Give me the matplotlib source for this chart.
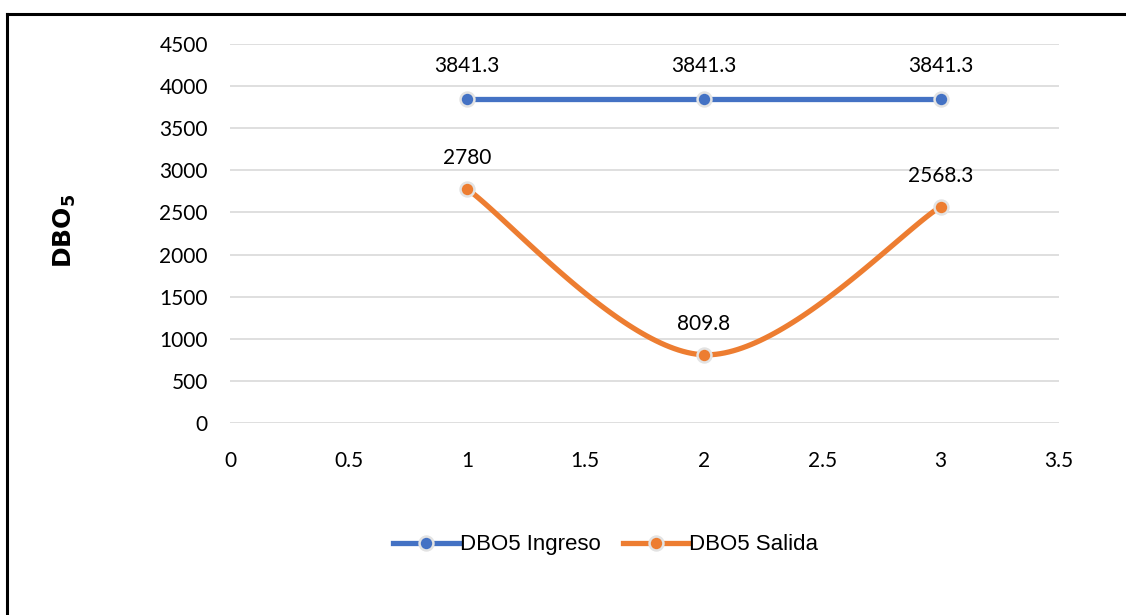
import matplotlib
matplotlib.use("Agg")
import matplotlib.pyplot as plt
from matplotlib.lines import Line2D
import numpy as np

# data
x_vals = [1, 2, 3]
ingreso = [3841.3, 3841.3, 3841.3]
salida = [2780, 809.8, 2568.3]
ingreso_labels = ["3841.3", "3841.3", "3841.3"]
salida_labels = ["2780", "809.8", "2568.3"]
series_names = ["DBO5 Ingreso", "DBO5 Salida"]

BLUE = "#4472C4"
ORANGE = "#ED7D31"
GRID = "#D9D9D9"
TICKFONT = ["Lato", "DejaVu Sans"]


def smooth(xs, ys, n=60):
    # Catmull-Rom style bezier smoothing, like a spreadsheet "smoothed line"
    xs = np.asarray(xs, float)
    ys = np.asarray(ys, float)
    px, py = [], []
    for i in range(len(xs) - 1):
        x0, y0 = (xs[i - 1], ys[i - 1]) if i > 0 else (xs[i], ys[i])
        x3, y3 = (xs[i + 2], ys[i + 2]) if i + 2 < len(xs) else (xs[i + 1], ys[i + 1])
        x1, y1, x2, y2 = xs[i], ys[i], xs[i + 1], ys[i + 1]
        c1x, c1y = x1 + (x2 - x0) / 6, y1 + (y2 - y0) / 6
        c2x, c2y = x2 - (x3 - x1) / 6, y2 - (y3 - y1) / 6
        t = np.linspace(0, 1, n)
        b0, b1, b2, b3 = (1 - t) ** 3, 3 * t * (1 - t) ** 2, 3 * t ** 2 * (1 - t), t ** 3
        px.extend(b0 * x1 + b1 * c1x + b2 * c2x + b3 * x2)
        py.extend(b0 * y1 + b1 * c1y + b2 * c2y + b3 * y2)
    return np.array(px), np.array(py)


fig = plt.figure(figsize=(11.26, 6.15), dpi=100)
ax = fig.add_axes([0.2043, 0.3122, 0.7362, 0.6163])

mk = dict(marker="o", markersize=10, markeredgecolor="#E3E3E3", markeredgewidth=1.8, zorder=4)

ax.plot(x_vals, ingreso, color=BLUE, lw=3.8, solid_capstyle="round", zorder=3)
ax.plot(x_vals, ingreso, ls="none", markerfacecolor=BLUE, **mk)

sx, sy = smooth(x_vals, salida)
ax.plot(sx, sy, color=ORANGE, lw=3.8, solid_capstyle="round", zorder=3)
ax.plot(x_vals, salida, ls="none", markerfacecolor=ORANGE, **mk)

for xv, yv, lab in zip(x_vals, ingreso, ingreso_labels):
    ax.annotate(lab, (xv, yv), xytext=(0, 24), textcoords="offset points",
                ha="center", va="center", fontsize=15, family=TICKFONT)
for xv, yv, lab in zip(x_vals, salida, salida_labels):
    ax.annotate(lab, (xv, yv), xytext=(0, 22), textcoords="offset points",
                ha="center", va="center", fontsize=15, family=TICKFONT)

ax.set_xlim(0, 3.5)
ax.set_ylim(0, 4500)
ax.set_xticks(np.arange(0, 3.51, 0.5))
ax.set_xticklabels(["0", "0.5", "1", "1.5", "2", "2.5", "3", "3.5"])
ax.set_yticks(np.arange(0, 4501, 500))
ax.yaxis.grid(True, color=GRID, lw=1.2)
ax.set_axisbelow(True)
for s in ax.spines.values():
    s.set_visible(False)
ax.tick_params(length=0, labelsize=15, pad=16)
ax.tick_params(axis="x", pad=20)
for lab in ax.get_xticklabels() + ax.get_yticklabels():
    lab.set_family(TICKFONT)

fig.text(0.058, 0.625, r"$\mathbf{DBO_5}$", rotation=90, ha="center", va="center",
         fontsize=18, fontweight="bold")

handles = [
    Line2D([], [], color=BLUE, lw=3.8, markerfacecolor=BLUE, **mk),
    Line2D([], [], color=ORANGE, lw=3.8, markerfacecolor=ORANGE, **mk),
]
fig.legend(handles, series_names, loc="center", bbox_to_anchor=(0.538, 0.114), ncol=2,
           frameon=False, handlelength=3.0, handletextpad=0.0,
           columnspacing=1.0, prop={"family": ["Liberation Sans"], "size": 16})

# outer frame lines (top and left)
fig.add_artist(Line2D([0.0065, 1.0], [0.978, 0.978], color="black", lw=2.2, transform=fig.transFigure))
fig.add_artist(Line2D([0.0065, 0.0065], [0.0, 0.978], color="black", lw=2.2, transform=fig.transFigure))

fig.savefig("out.png", dpi=100)
